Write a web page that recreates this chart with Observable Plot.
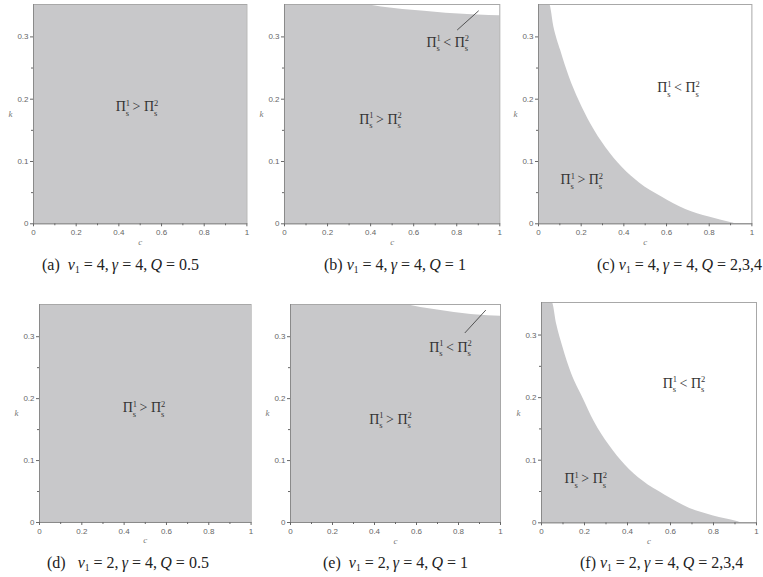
<!DOCTYPE html>
<html><head><meta charset="utf-8">
<script src="https://cdn.jsdelivr.net/npm/d3@7"></script>
<script src="https://cdn.jsdelivr.net/npm/@observablehq/plot@0.6"></script>
<style>
body{margin:0;background:#fff;}
#root{position:relative;width:763px;height:577px;overflow:hidden;background:#fff;}
.panel{position:absolute;}
.cap{position:absolute;font-family:"Liberation Serif","Times New Roman",serif;font-size:16px;color:#222;white-space:nowrap;line-height:1;transform:translateY(-50%);}
.cap i{font-style:italic;}
.cap sub{font-size:9.5px;vertical-align:-3px;line-height:0;}
</style></head><body><div id="root"></div>
<script>
// ---- axis ticks ----
const xTicks = [0, 0.2, 0.4, 0.6, 0.8, 1];
const xMinorTicks = [0.1, 0.3, 0.5, 0.7, 0.9];
const yTicks = [0, 0.1, 0.2, 0.3];
const yMinorTicks = [0.05, 0.15, 0.25];
const cDomain = [0, 1];
const kDomain = [0, 0.352];

// ---- shaded regions (Π¹ > Π²) : upper boundary k(c) ----
const aC = [0, 1];
const aK = [0.352, 0.352];
const bC = [0, 0.38, 0.45, 0.55, 0.65, 0.75, 0.85, 0.95, 1.0];
const bK = [0.352, 0.352, 0.348, 0.344, 0.341, 0.338, 0.336, 0.3345, 0.334];
const cC = [0, 0.052, 0.072, 0.104, 0.144, 0.191, 0.245, 0.316, 0.394, 0.472, 0.578, 0.69, 0.8, 0.905, 0.93, 1.0];
const cK = [0.352, 0.352, 0.316, 0.278, 0.236, 0.197, 0.160, 0.122, 0.090, 0.066, 0.043, 0.023, 0.0107, 0.0018, 0, 0];
const dC = [0, 1];
const dK = [0.352, 0.352];
const eC = [0, 0.55, 0.62, 0.70, 0.78, 0.86, 0.94, 1.0];
const eK = [0.352, 0.352, 0.347, 0.343, 0.339, 0.336, 0.334, 0.333];
const fC = [0, 0.05, 0.07, 0.1, 0.14, 0.192, 0.245, 0.315, 0.39, 0.47, 0.575, 0.69, 0.8, 0.91, 0.93, 1.0];
const fK = [0.352, 0.352, 0.318, 0.28, 0.238, 0.2, 0.162, 0.124, 0.092, 0.067, 0.044, 0.023, 0.011, 0.002, 0, 0];

// ---- region labels ----
const greaterC = [0.485, 0.446, 0.203, 0.494, 0.476, 0.206];
const greaterK = [0.188, 0.168, 0.071, 0.185, 0.167, 0.070];
const lessC = [null, 0.758, 0.656, null, 0.762, 0.663];
const lessK = [null, 0.291, 0.218, null, 0.283, 0.223];
// leader lines (c1,k1,c2,k2)
const leaderC1 = [null, 0.802, null, null, 0.83, null];
const leaderK1 = [null, 0.311, null, null, 0.306, null];
const leaderC2 = [null, 0.902, null, null, 0.93, null];
const leaderK2 = [null, 0.342, null, null, 0.343, null];

// ---- captions ----
const capLetter = ["(a)", "(b)", "(c)", "(d)", "(e)", "(f)"];
const capV1 = ["4", "4", "4", "2", "2", "2"];
const capGamma = ["4", "4", "4", "4", "4", "4"];
const capQ = ["0.5", "1", "2,3,4", "0.5", "1", "2,3,4"];

const regionsC = [aC, bC, cC, dC, eC, fC];
const regionsK = [aK, bK, cK, dK, eK, fK];

// panel frame geometry (pixels)
const frames = [
  {l: 33.3, r: 246.7, t: 4, b: 223.3, capX: 42, capY: 265, gap: 2},
  {l: 284, r: 499.3, t: 4, b: 223.3, capX: 324, capY: 265, gap: 1},
  {l: 538.3, r: 751.7, t: 4, b: 223.3, capX: 597, capY: 265, gap: 1},
  {l: 38.7, r: 250.3, t: 304, b: 522, capX: 47, capY: 563, gap: 3},
  {l: 290, r: 500, t: 304, b: 522, capX: 323, capY: 563, gap: 2},
  {l: 540.7, r: 755.7, t: 302, b: 522.3, capX: 580, capY: 563, gap: 1}
];

const root = document.getElementById("root");
const GRAY = "#c8c8ca";
const fmt = d => d === 0 ? "0" : String(d);

function piLabel(textEl, op) {
  const ns = "http://www.w3.org/2000/svg";
  textEl.textContent = "";
  const parts = [
    ["\u03A0", {}],
    ["1", {dy: -5.5, "font-size": 8.5}],
    ["s", {dx: -4.3, dy: 10, "font-size": 8.5}],
    [" " + op + " ", {dy: -4.5}],
    ["\u03A0", {}],
    ["2", {dy: -5.5, "font-size": 8.5}],
    ["s", {dx: -4.3, dy: 10, "font-size": 8.5}]
  ];
  for (const [t, attrs] of parts) {
    const ts = document.createElementNS(ns, "tspan");
    ts.textContent = t;
    for (const [k, v] of Object.entries(attrs)) ts.setAttribute(k, v);
    textEl.appendChild(ts);
  }
}

frames.forEach((fr, i) => {
  const ML = 36, MR = 6, MT = 6, MB = 32;
  const W = (fr.r - fr.l) + ML + MR;
  const H = (fr.b - fr.t) + MT + MB;
  const region = regionsC[i].map((c, j) => ({c, k: regionsK[i][j]}));
  const labels = [{c: greaterC[i], k: greaterK[i], op: ">"}];
  if (lessC[i] != null) labels.push({c: lessC[i], k: lessK[i], op: "<"});
  const leaders = leaderC1[i] != null ? [{c1: leaderC1[i], k1: leaderK1[i], c2: leaderC2[i], k2: leaderK2[i]}] : [];
  const smooth = (i === 2 || i === 5) ? "monotone-x" : "linear";

  const plot = Plot.plot({
    width: W, height: H,
    marginLeft: ML, marginRight: MR, marginTop: MT, marginBottom: MB,
    x: {domain: cDomain},
    y: {domain: kDomain},
    style: {fontFamily: "Liberation Sans, sans-serif", fontSize: "8px", color: "#666", background: "transparent", overflow: "visible"},
    marks: [
      Plot.areaY(region, {x: "c", y: "k", fill: GRAY, curve: smooth}),
      Plot.frame({stroke: "#a8a8a8", strokeWidth: 1}),
      Plot.ruleX([0], {stroke: "#8a8a8a"}),
      Plot.ruleY([0], {stroke: "#8a8a8a"}),
      Plot.axisX({ticks: xTicks, tickSize: 3, tickPadding: 3, tickFormat: fmt, label: null}),
      Plot.axisX({ticks: xMinorTicks, tickSize: 2, tickFormat: () => "", label: null}),
      Plot.axisY({ticks: yTicks, tickSize: 3, tickPadding: 2, tickFormat: fmt, label: null}),
      Plot.axisY({ticks: yMinorTicks, tickSize: 2, tickFormat: () => "", label: null}),
      Plot.text(["c"], {frameAnchor: "bottom", dy: 21, fontStyle: "italic", fontFamily: "Liberation Serif", fontSize: 9, fill: "#777"}),
      Plot.text(["k"], {frameAnchor: "left", dx: -25, fontStyle: "italic", fontFamily: "Liberation Serif", fontSize: 9, fill: "#777"}),
      Plot.link(leaders, {x1: "c1", y1: "k1", x2: "c2", y2: "k2", stroke: "#333", strokeWidth: 0.8}),
      Plot.text(labels, {x: "c", y: "k", text: "op", fontFamily: "Liberation Serif", fontSize: 14, fill: "#333", ariaDescription: "pi-label"})
    ]
  });
  plot.querySelectorAll('g[aria-description="pi-label"] text').forEach(t => piLabel(t, t.textContent.trim()));
  plot.classList.add("panel");
  plot.style.left = (fr.l - ML) + "px";
  plot.style.top = (fr.t - MT) + "px";
  root.appendChild(plot);

  const cap = document.createElement("div");
  cap.className = "cap";
  cap.style.left = fr.capX + "px";
  cap.style.top = fr.capY + "px";
  const sp = "&nbsp;".repeat(fr.gap);
  cap.innerHTML = `${capLetter[i]}${sp}<i>v</i><sub>1</sub> = ${capV1[i]},\u2009<i>\u03B3</i> = ${capGamma[i]},\u2009<i>Q</i> = ${capQ[i]}`;
  root.appendChild(cap);
});
</script></body></html>
